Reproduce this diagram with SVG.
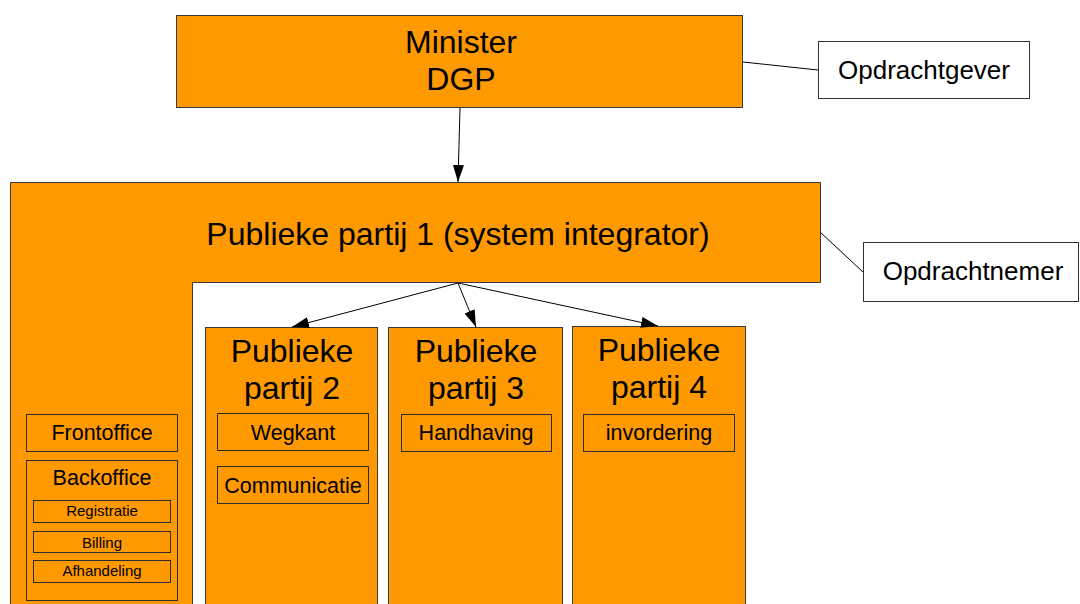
<svg xmlns="http://www.w3.org/2000/svg" width="1080" height="604" viewBox="0 0 1080 604">
  <style>
    .org { fill: #ff9900; stroke: #3a3a3a; stroke-width: 1; }
    .sub { fill: #ff9900; stroke: #2a2a2a; stroke-width: 1; }
    .note { fill: #ffffff; stroke: #333333; stroke-width: 1; }
    .t { font-family: "Liberation Sans", Arial, sans-serif; fill: #000; text-anchor: middle; }
    .big { font-size: 32px; }
    .mid { font-size: 26px; }
    .sm { font-size: 21.5px; }
    .xs { font-size: 15px; }
    .link { stroke: #000; stroke-width: 1; fill: none; }
    .arrow { stroke: #000; stroke-width: 1; fill: none; marker-end: url(#head); }
  </style>
  <defs>
    <marker id="head" markerWidth="17" markerHeight="11" refX="17" refY="5.5" viewBox="0 0 17 11" markerUnits="userSpaceOnUse" orient="auto">
      <path d="M0,0 L17,5.5 L0,11 Z" fill="#000"/>
    </marker>
  </defs>

  <rect width="1080" height="604" fill="#ffffff"/>

  <g id="minister">
    <rect class="org" x="176.5" y="15.5" width="566" height="92"/>
    <text class="t big" x="461" y="53">Minister</text>
    <text class="t big" x="461" y="90">DGP</text>
  </g>

  <g id="opdrachtgever">
    <rect class="note" x="818.5" y="41.5" width="211" height="57"/>
    <text class="t mid" x="924" y="79">Opdrachtgever</text>
  </g>

  <g id="partij1">
    <path class="org" d="M10.5,182.5 H820.5 V282.5 H192.5 V610 H10.5 Z"/>
    <text class="t big" x="458" y="245">Publieke partij 1 (system integrator)</text>
  </g>

  <g id="frontoffice">
    <rect class="sub" x="26.5" y="414.5" width="151" height="37"/>
    <text class="t sm" x="102" y="440">Frontoffice</text>
  </g>

  <g id="backoffice">
    <rect class="sub" x="26.5" y="460.5" width="151" height="140"/>
    <text class="t sm" x="102" y="485">Backoffice</text>
    <g id="registratie">
      <rect class="sub" x="33.5" y="500.5" width="137" height="22"/>
      <text class="t xs" x="102" y="516">Registratie</text>
    </g>
    <g id="billing">
      <rect class="sub" x="33.5" y="531.5" width="137" height="21"/>
      <text class="t xs" x="102" y="548">Billing</text>
    </g>
    <g id="afhandeling">
      <rect class="sub" x="33.5" y="560.5" width="137" height="22"/>
      <text class="t xs" x="102" y="576">Afhandeling</text>
    </g>
  </g>

  <g id="opdrachtnemer">
    <rect class="note" x="863.5" y="242.5" width="215" height="59"/>
    <text class="t mid" x="973" y="280">Opdrachtnemer</text>
  </g>

  <g id="partij2">
    <rect class="org" x="205.5" y="327.5" width="172" height="290"/>
    <text class="t big" x="292" y="362">Publieke</text>
    <text class="t big" x="292" y="399">partij 2</text>
    <g id="wegkant">
      <rect class="sub" x="217.5" y="413.5" width="151" height="37"/>
      <text class="t sm" x="293" y="440">Wegkant</text>
    </g>
    <g id="communicatie">
      <rect class="sub" x="217.5" y="466.5" width="151" height="37"/>
      <text class="t sm" x="293" y="493">Communicatie</text>
    </g>
  </g>

  <g id="partij3">
    <rect class="org" x="388.5" y="327.5" width="174" height="290"/>
    <text class="t big" x="476" y="362">Publieke</text>
    <text class="t big" x="476" y="399">partij 3</text>
    <g id="handhaving">
      <rect class="sub" x="401.5" y="414.5" width="150" height="37"/>
      <text class="t sm" x="476" y="440">Handhaving</text>
    </g>
  </g>

  <g id="partij4">
    <rect class="org" x="572.5" y="326.5" width="173" height="290"/>
    <text class="t big" x="659" y="361">Publieke</text>
    <text class="t big" x="659" y="398">partij 4</text>
    <g id="invordering">
      <rect class="sub" x="583.5" y="414.5" width="151" height="37"/>
      <text class="t sm" x="659" y="440">invordering</text>
    </g>
  </g>

  <g id="connectors">
    <line class="link" x1="743" y1="62" x2="818" y2="70"/>
    <line class="link" x1="820" y1="232" x2="863" y2="272"/>
    <line class="arrow" x1="460" y1="108" x2="458" y2="182"/>
    <line class="arrow" x1="458" y1="283" x2="292" y2="327"/>
    <line class="arrow" x1="458" y1="283" x2="476" y2="327"/>
    <line class="arrow" x1="458" y1="283" x2="658" y2="326"/>
  </g>
</svg>
